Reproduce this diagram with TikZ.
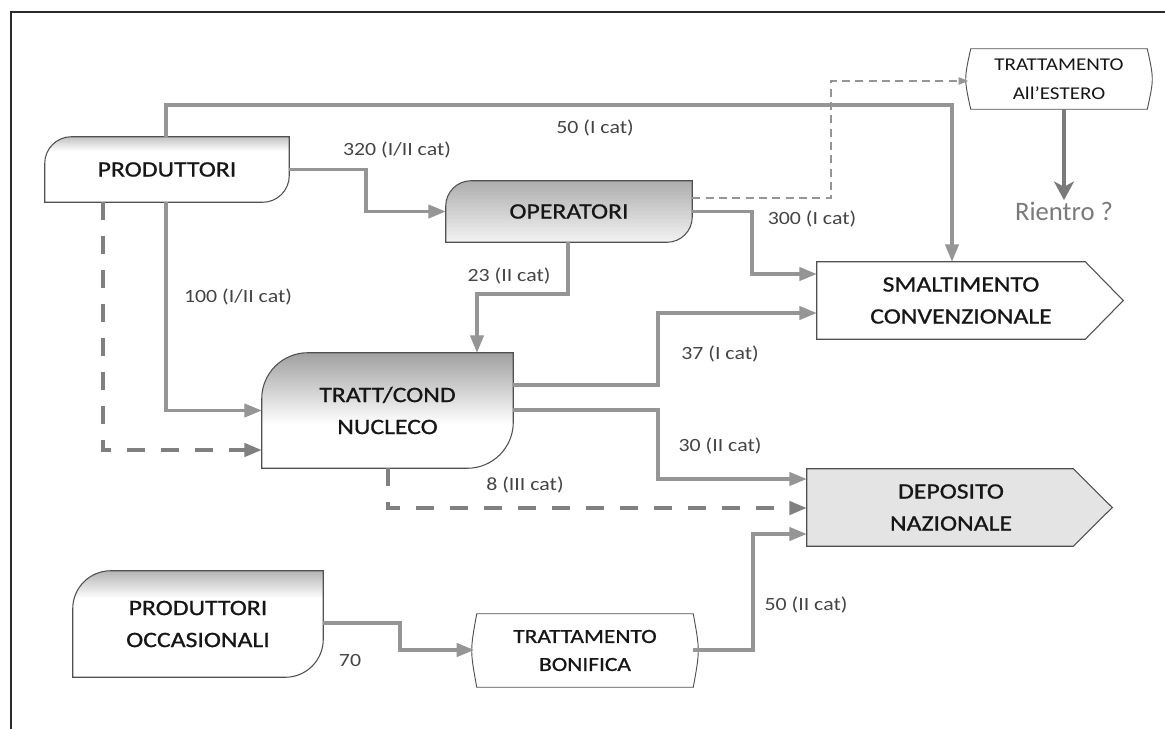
\documentclass[tikz,border=0pt]{standalone}
\usepackage{fontspec}
\setmainfont{Carlito}
\newfontfamily\boxfont[FakeStretch=1.17,FakeBold=0.8]{Carlito}
\newfontfamily\lblfontfam[FakeStretch=1.17]{Carlito}
\usetikzlibrary{arrows.meta,backgrounds,calc}
\definecolor{flowgray}{HTML}{959595}
\definecolor{dashgray}{HTML}{808080}
\definecolor{edgegray}{HTML}{505050}
\definecolor{lblgray}{HTML}{444444}
\definecolor{txtdark}{HTML}{161616}
\definecolor{depofill}{HTML}{E4E4E4}
\definecolor{framecol}{HTML}{2A2A2A}
\definecolor{rientrocol}{HTML}{7A7A7A}
\definecolor{prodtop}{HTML}{C2C2C2}
\definecolor{opertop}{HTML}{ADADAD}
\definecolor{operbot}{HTML}{F3F3F3}
\definecolor{tratttop}{HTML}{A0A0A0}
\definecolor{occtop}{HTML}{B4B4B4}
\pgfdeclareverticalshading{prodshade}{100bp}{color(0bp)=(white); color(25bp)=(white); color(64bp)=(white); color(75bp)=(prodtop); color(100bp)=(prodtop)}
\pgfdeclareverticalshading{opershade}{100bp}{color(0bp)=(operbot); color(25bp)=(operbot); color(75bp)=(opertop); color(100bp)=(opertop)}
\pgfdeclareverticalshading{trattshade}{100bp}{color(0bp)=(white); color(25bp)=(white); color(44bp)=(white); color(75bp)=(tratttop); color(100bp)=(tratttop)}
\pgfdeclareverticalshading{occshade}{100bp}{color(0bp)=(white); color(25bp)=(white); color(62bp)=(white); color(75bp)=(occtop); color(100bp)=(occtop)}
\newcommand\rdbox[3]{\shadedraw[shading=#3, draw=edgegray, line width=0.8pt] (#1.south west) -- ([yshift=-#2]#1.north west) .. controls ([yshift={-0.448*#2}]#1.north west) and ([xshift={0.448*#2}]#1.north west) .. ([xshift=#2]#1.north west) -- (#1.north east) -- ([yshift=#2]#1.south east) .. controls ([yshift={0.448*#2}]#1.south east) and ([xshift={-0.448*#2}]#1.south east) .. ([xshift=-#2]#1.south east) -- cycle;}
\begin{document}
\begin{tikzpicture}[x=0.75pt,y=-0.75pt,
  boxtext/.style={inner sep=0pt, align=center, font=\boxfont\fontsize{16.5pt}{24pt}\selectfont, text=txtdark},
  lbl/.style={inner sep=0pt, font=\lblfontfam\fontsize{14pt}{17pt}\selectfont, text=lblgray},
  flowline/.style={draw=flowgray, line width=2.3pt, -{Triangle[length=13pt,width=10pt]}},
  heavydash/.style={draw=dashgray, line width=2.6pt, dash pattern=on 13.5pt off 12pt, -{Triangle[length=13pt,width=10pt]}},
  lightdash/.style={draw=flowgray, line width=0.8pt, dash pattern=on 6pt off 4pt, -{Triangle[length=7pt,width=5.5pt]}},
  bigarrow/.style={draw=rientrocol, line width=3pt, -{Stealth[length=14pt,width=15pt,inset=4pt]}}]
\useasboundingbox (0,0) rectangle (1165,729);
% nodes
\node[boxtext, minimum width=183pt, minimum height=48.75pt] (prod) at (167,169.5) {PRODUTTORI};
\node[boxtext, minimum width=184.5pt, minimum height=45.75pt] (oper) at (569,211.5) {OPERATORI};
\node[boxtext, minimum width=188.25pt, minimum height=86.25pt] (tratt) at (387.5,410.5) {TRATT/COND\\NUCLECO};
\node[boxtext, minimum width=187.5pt, minimum height=79.5pt] (occ) at (198,624) {PRODUTTORI\\OCCASIONALI};
\node[boxtext, minimum width=216pt, minimum height=57.75pt] (smalt) at (961,300.5) {SMALTIMENTO\\CONVENZIONALE};
\node[boxtext, minimum width=216pt, minimum height=57.75pt] (depo) at (951,507.5) {DEPOSITO\\NAZIONALE};
\node[boxtext, minimum width=162pt, minimum height=54.75pt, font=\boxfont\fontsize{15pt}{21pt}\selectfont] (bon) at (585,650.5) {TRATTAMENTO\\BONIFICA};
\node[boxtext, minimum width=132pt, minimum height=45pt, font=\lblfontfam\fontsize{13.5pt}{22pt}\selectfont] (est) at (1059,79) {TRATTAMENTO\\All’ESTERO};
\node[inner sep=1pt, text=rientrocol, font=\fontsize{20pt}{24pt}\selectfont] (rient) at (1064,211) {Rientro ?};
% shapes
\begin{scope}[on background layer]
\fill[white] (0,0) rectangle (1165,729);
\draw[framecol, line width=1.3pt] (11,729) -- (11,12) -- (1165,12);
\rdbox{prod}{20pt}{prodshade}
\rdbox{oper}{19pt}{opershade}
\rdbox{tratt}{34.5pt}{trattshade}
\rdbox{occ}{28.5pt}{occshade}
\draw[draw=edgegray, line width=0.8pt, fill=white] (smalt.north west) -- ([xshift=-15pt]smalt.north east) -- ([xshift=13.5pt]smalt.east) -- ([xshift=-15pt]smalt.south east) -- (smalt.south west) -- cycle;
\draw[draw=edgegray, line width=0.8pt, fill=depofill] (depo.north west) -- ([xshift=-16.5pt]depo.north east) -- ([xshift=12.75pt]depo.east) -- ([xshift=-16.5pt]depo.south east) -- (depo.south west) -- cycle;
\draw[draw=edgegray, line width=0.7pt, fill=white] (bon.north west) -- (bon.north east) .. controls ([xshift=5pt]bon.east) .. (bon.south east) -- (bon.south west) .. controls ([xshift=-5pt]bon.west) .. (bon.north west) -- cycle;
\draw[draw=edgegray, line width=0.7pt, fill=white] (est.north west) -- (est.north east) .. controls ([xshift=5pt]est.east) .. (est.south east) -- (est.south west) .. controls ([xshift=-5pt]est.west) .. (est.north west) -- cycle;
\end{scope}
% coordinates
\coordinate (cA) at (166,0);
\coordinate (cTop) at (952,105);
\coordinate (c320) at (366,0);
\coordinate (cB) at (103,450);
\coordinate (cD) at (831,81);
\coordinate (cD0) at (0,198);
\coordinate (cF) at (752,274);
\coordinate (cG1) at (568,294);
\coordinate (cG2) at (477,294);
\coordinate (cI1) at (658,385);
\coordinate (cI2) at (658,313);
\coordinate (cJ1) at (658,410);
\coordinate (cJ2) at (658,479);
\coordinate (cK) at (388,508);
\coordinate (cL1) at (400,623);
\coordinate (cL2) at (400,650);
\coordinate (cM1) at (753,650);
\coordinate (cM2) at (753,534);
% connectors
\draw[flowline] (prod.north -| cA) |- (cTop) -- (smalt.north -| cTop);
\draw[flowline] (prod.east) -| (c320 |- oper.west) -- (oper.west);
\draw[flowline] (prod.south -| cA) |- (tratt.west);
\draw[heavydash] (prod.south -| cB) -- (cB) -- (tratt.west |- cB);
\draw[lightdash, shorten >=2pt] (oper.east |- cD0) -| (cD) -- (est.west |- cD);
\draw[flowline] (oper.east) -| (cF) -- (smalt.west |- cF);
\draw[flowline] (oper.south -| cG1) -- (cG1) -- (cG2) -- (tratt.north -| cG2);
\draw[flowline] (tratt.east |- cI1) -- (cI1) -- (cI2) -- (smalt.west |- cI2);
\draw[flowline] (tratt.east |- cJ1) -- (cJ1) -- (cJ2) -- (depo.west |- cJ2);
\draw[heavydash] (tratt.south -| cK) -- (cK) -- (depo.west |- cK);
\draw[flowline, shorten >=2pt] (occ.east |- cL1) -- (cL1) -- (cL2) -- (bon.west |- cL2);
\draw[flowline] (bon.east |- cM1) -- (cM1) -- (cM2) -- (depo.west |- cM2);
\draw[bigarrow] (est.south -| rient) -- (rient.north);
% labels
\node[lbl] (l50a) at (595,128) {50 (I cat)};
\node[lbl] (l320) at (397,150) {320 (I/II cat)};
\node[lbl] (l300) at (812,219) {300 (I cat)};
\node[lbl] (l23) at (509,276) {23 (II cat)};
\node[lbl] (l100) at (238,297) {100 (I/II cat)};
\node[lbl] (l37) at (720,354) {37 (I cat)};
\node[lbl] (l30) at (720,446) {30 (II cat)};
\node[lbl] (l8) at (525,485) {8 (III cat)};
\node[lbl] (l50b) at (806,605) {50 (II cat)};
\node[lbl] (l70) at (350,660) {70};
\end{tikzpicture}
\end{document}
